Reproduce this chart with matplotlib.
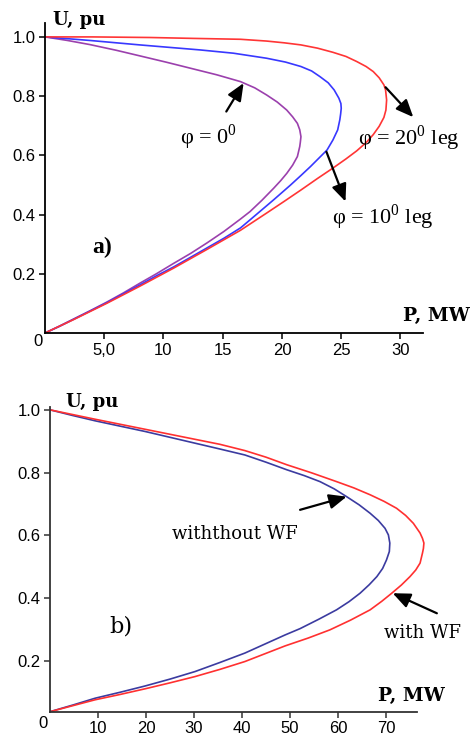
import matplotlib
matplotlib.use("Agg")
import matplotlib.pyplot as plt

# ----------------------------------------------------
# DATA (P in MW, U in pu)
# ----------------------------------------------------
# a) three load angles
p_phi20 = [0, 4.0, 8.9, 12.5, 16.5, 18.7, 20.2, 21.6, 23.0, 24.3, 25.4, 26.3, 27.1, 27.7, 28.2, 28.6,
           28.74, 28.83, 28.77, 28.6, 28.2, 27.7, 27.1, 26.3, 25.4, 24.3, 23.0, 21.6, 20.2, 18.7,
           16.5, 13.7, 10.85, 8.0, 5.2, 2.4, 0]
u_phi20 = [1.0, 1.0, 0.998, 0.995, 0.992, 0.986, 0.98, 0.973, 0.962, 0.948, 0.934, 0.917, 0.9, 0.883, 0.862, 0.838,
           0.821, 0.787, 0.753, 0.728, 0.698, 0.67, 0.643, 0.615, 0.588, 0.557, 0.522, 0.483, 0.445, 0.405,
           0.347, 0.283, 0.219, 0.158, 0.10, 0.045, 0]

p_phi10 = [0, 3.8, 8.0, 13.1, 15.9, 18.7, 20.3, 21.6, 22.5, 23.2, 23.9, 24.4, 24.8, 24.97, 25.0, 24.95,
           24.88, 24.7, 24.3, 23.8, 23.1, 22.4, 21.6, 20.7, 19.3, 18.3, 17.3, 16.5, 15.1, 13.7,
           12.3, 10.85, 9.4, 8.0, 6.6, 5.2, 3.8, 2.4, 1.2, 0]
u_phi10 = [1.0, 0.988, 0.973, 0.956, 0.945, 0.928, 0.915, 0.90, 0.885, 0.866, 0.845, 0.821, 0.793, 0.775, 0.759, 0.74,
           0.72, 0.686, 0.652, 0.618, 0.59, 0.562, 0.532, 0.499, 0.45, 0.416, 0.382, 0.355, 0.32, 0.288,
           0.256, 0.223, 0.193, 0.162, 0.132, 0.102, 0.074, 0.046, 0.022, 0]

p_phi0 = [0, 1.9, 3.8, 6.0, 8.0, 10.2, 12.3, 14.5, 16.5, 17.7, 18.7, 19.6, 20.4, 20.9, 21.3, 21.5,
          21.6, 21.55, 21.5, 21.3, 20.9, 20.4, 19.9, 19.3, 18.3, 17.3, 16.5, 15.1, 13.7, 12.3,
          10.85, 9.4, 8.0, 6.6, 5.2, 3.8, 2.4, 1.2, 0]
u_phi0 = [1.0, 0.988, 0.974, 0.955, 0.936, 0.915, 0.894, 0.872, 0.849, 0.828, 0.804, 0.78, 0.753, 0.73, 0.708, 0.686,
          0.663, 0.645, 0.63, 0.596, 0.567, 0.539, 0.515, 0.489, 0.448, 0.41, 0.385, 0.343, 0.305, 0.269,
          0.235, 0.2, 0.168, 0.135, 0.104, 0.075, 0.047, 0.023, 0]

# b) with / without wind farm
p_wf = [0, 4.7, 9.4, 14.6, 19.8, 27.6, 35.4, 40.6, 45.0, 49.3, 54.5, 59.7, 63.3, 66.7, 69.6, 72.2,
        74.1, 75.7, 77.1, 77.6, 77.9, 77.8, 77.6, 77.1, 76.2, 75.0, 73.2, 71.2, 69.1, 66.7,
        62.6, 58.3, 53.8, 49.0, 44.8, 40.6, 35.4, 30.2, 25.0, 19.8, 14.6, 9.4, 4.7, 0]
u_wf = [1.0, 0.985, 0.97, 0.954, 0.938, 0.914, 0.89, 0.87, 0.849, 0.825, 0.799, 0.771, 0.751, 0.729, 0.708, 0.686,
        0.663, 0.638, 0.607, 0.59, 0.575, 0.558, 0.543, 0.511, 0.489, 0.468, 0.441, 0.415, 0.389, 0.362,
        0.329, 0.298, 0.272, 0.247, 0.222, 0.197, 0.172, 0.149, 0.129, 0.11, 0.092, 0.075, 0.056, 0.037]

p_nowf = [0, 4.7, 9.4, 14.6, 19.8, 27.6, 35.4, 40.6, 45.0, 49.3, 53.0, 56.25, 59.2, 61.8, 64.4, 66.7,
          68.4, 69.8, 70.5, 70.8, 70.7, 70.1, 69.3, 68.1, 66.5, 64.6, 62.3, 59.7, 56.0, 52.1,
          49.0, 44.8, 40.6, 35.4, 30.2, 25.0, 19.8, 14.6, 9.4, 4.7, 0]
u_nowf = [1.0, 0.982, 0.965, 0.948, 0.931, 0.903, 0.875, 0.856, 0.833, 0.809, 0.79, 0.771, 0.748, 0.723, 0.697, 0.67,
          0.647, 0.622, 0.601, 0.575, 0.548, 0.521, 0.494, 0.468, 0.442, 0.415, 0.388, 0.362, 0.332, 0.302,
          0.282, 0.253, 0.224, 0.194, 0.165, 0.141, 0.119, 0.099, 0.08, 0.058, 0.037]

xticks_a = [5, 10, 15, 20, 25, 30]
xlabels_a = ["5,0", "10", "15", "20", "25", "30"]
xticks_b = [10, 20, 30, 40, 50, 60, 70]
xlabels_b = ["10", "20", "30", "40", "50", "60", "70"]
yticks = [0.2, 0.4, 0.6, 0.8, 1.0]
ylabels = ["0.2", "0.4", "0.6", "0.8", "1.0"]

plt.rcParams['mathtext.fontset'] = 'custom'
plt.rcParams['mathtext.rm'] = 'Liberation Serif'

TICK_FONT = dict(family='Liberation Sans', size=12)
SERIF = 'Liberation Serif'
SLAB = 'DejaVu Serif'


def style_axes(ax, xt, xl, spine_color):
    for s in ('top', 'right'):
        ax.spines[s].set_visible(False)
    for s in ('left', 'bottom'):
        ax.spines[s].set_linewidth(1.3)
        ax.spines[s].set_color(spine_color)
    ax.set_xticks(xt)
    ax.set_xticklabels(xl, fontdict=TICK_FONT)
    ax.set_yticks(yticks)
    ax.set_yticklabels(ylabels, fontdict=TICK_FONT)
    ax.tick_params(direction='out', length=4, width=1.1, color=spine_color, pad=3)


def arrow(ax, tip, tail):
    ax.annotate('', xy=tip, xytext=tail,
                arrowprops=dict(arrowstyle='-|>,head_length=0.7,head_width=0.3',
                                mutation_scale=15, color='black', lw=1.6,
                                shrinkA=0, shrinkB=0))


fig = plt.figure(figsize=(4.72, 7.36), dpi=100)

# ----------------------------------------------------
# a)
# ----------------------------------------------------
ax1 = fig.add_axes([45 / 472, 403 / 736, 378 / 472, 310 / 736])
ax1.plot(p_phi0, u_phi0, color='#9b40ad', lw=1.2)
ax1.plot(p_phi10, u_phi10, color='#3838ff', lw=1.2)
ax1.plot(p_phi20, u_phi20, color='#ff3535', lw=1.2)
ax1.set_xlim(0, 31.9)
ax1.set_ylim(0, 1.047)
style_axes(ax1, xticks_a, xlabels_a, 'black')

ax1.text(2.9, 1.058, "U, pu", family=SLAB, weight='bold', size=13, ha='center', va='center')
ax1.text(33.0, 0.057, "P, MW", family=SLAB, weight='bold', size=13.5, ha='center', va='center')
ax1.text(-0.6, -0.03, "0", ha='center', va='center', **TICK_FONT)
ax1.text(4.8, 0.29, "a)", family=SERIF, weight='bold', size=17, ha='center', va='center')

ax1.text(13.8, 0.662, r"φ = 0$^{0}$", family=SERIF, size=16, ha='center', va='center')
arrow(ax1, (16.76, 0.844), (15.3, 0.748))
ax1.text(30.7, 0.659, r"φ = 20$^{0}$ leg", family=SERIF, size=16, ha='center', va='center')
arrow(ax1, (31.08, 0.729), (28.74, 0.83))
ax1.text(28.5, 0.392, r"φ = 10$^{0}$ leg", family=SERIF, size=16, ha='center', va='center')
arrow(ax1, (25.36, 0.444), (23.75, 0.612))

# ----------------------------------------------------
# b)
# ----------------------------------------------------
ax2 = fig.add_axes([50 / 472, 24.3 / 736, 380 / 472, 305 / 736])
ax2.plot(p_nowf, u_nowf, color='#3b3ba0', lw=1.2)
ax2.plot(p_wf, u_wf, color='#ff3030', lw=1.2)
ax2.set_xlim(0, 79.17)
ax2.set_ylim(0.037, 1.01)
style_axes(ax2, xticks_b, xlabels_b, '#333333')
ax2.spines['bottom'].set_bounds(0, 76.4)

ax2.text(8.75, 1.026, "U, pu", family=SLAB, weight='bold', size=13, ha='center', va='center')
ax2.text(75.2, 0.087, "P, MW", family=SLAB, weight='bold', size=13.5, ha='center', va='center')
ax2.text(-1.46, -0.002, "0", ha='center', va='center', **TICK_FONT)
ax2.text(14.8, 0.308, "b)", family=SLAB, size=16, ha='center', va='center')

ax2.text(38.5, 0.604, "withthout WF", family=SLAB, size=13, ha='center', va='center')
arrow(ax2, (61.8, 0.723), (52.1, 0.681))
ax2.text(77.7, 0.288, "with WF", family=SLAB, size=13, ha='center', va='center')
arrow(ax2, (71.4, 0.415), (80.6, 0.351))

fig.savefig("out.png", dpi=100)
